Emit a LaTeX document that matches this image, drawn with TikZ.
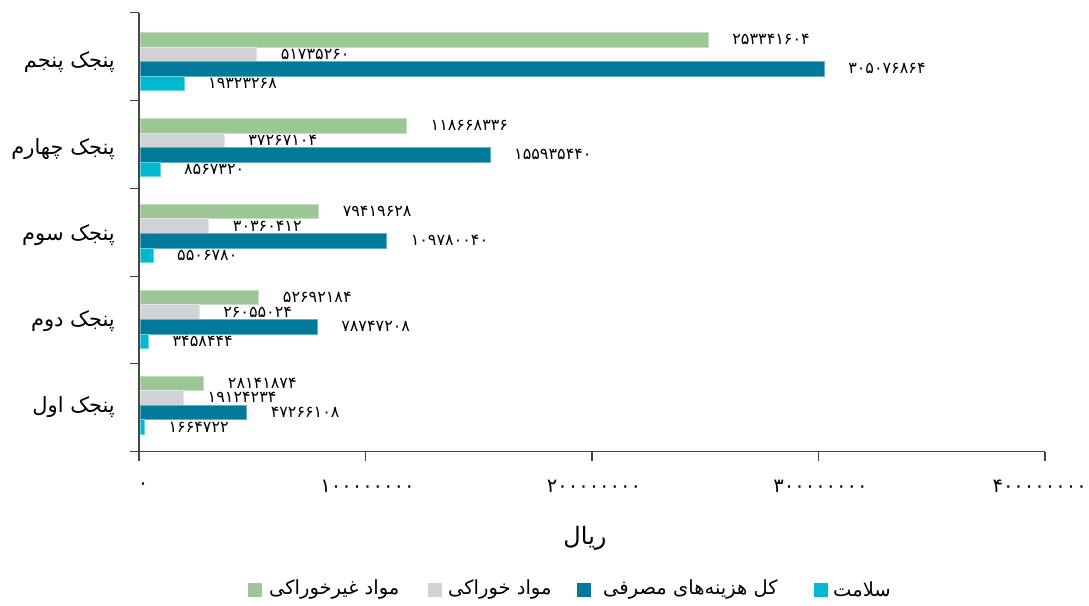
\documentclass[tikz,border=0pt]{standalone}
\usepackage{fontspec}
\newfontfamily\fa[Script=Arabic]{DejaVu Sans}
\TeXXeTstate=1
\definecolor{cgreen}{RGB}{157,198,151}
\definecolor{cgray}{RGB}{209,210,212}
\definecolor{cblue}{RGB}{0,121,154}
\definecolor{ccyan}{RGB}{0,184,208}
\definecolor{caxis}{RGB}{70,70,70}
\tikzset{
  axisline/.style={draw=caxis, line width=1.1pt},
  vlab/.style={font=\fa\fontsize{16}{18}\selectfont, inner sep=0pt, anchor=west, text=black},
  catlab/.style={font=\fa\fontsize{21}{24}\selectfont, inner sep=0pt, anchor=east, text=black},
  ticklab/.style={font=\fa\fontsize{19.5}{21}\selectfont, inner sep=0pt, text=black},
  leglab/.style={font=\fa\fontsize{19.5}{22}\selectfont, inner sep=0pt, anchor=west, text=black},
  legsq/.style={minimum width=14pt, minimum height=14pt, inner sep=0pt},
}
\newcommand\onebar[5]{%
  \fill[#3, draw=#3!60!white, line width=0.6pt] (140.7,#1) rectangle ({140.7+22.4*#2},{#1+14.6});
  \node[vlab] (#5) at ({140.7+22.4*#2+24},{#1+7.3}) {#4};
}
\begin{document}
\begin{tikzpicture}[x=1pt,y=-1pt]
\useasboundingbox (0,0) rectangle (1089,605);
\fill[white] (0,0) rectangle (1089,605);

% bars: quintile 5 (top) to 1 (bottom)
\foreach \i/\gv/\gl/\sv/\sl/\bv/\bl/\cv/\cl/\nm in {
 0/25.3341604/۲۵۳۳۴۱۶۰۴/5.173526/۵۱۷۳۵۲۶۰/30.5076864/۳۰۵۰۷۶۸۶۴/1.9323268/۱۹۳۲۳۲۶۸/q5,
 1/11.8668336/۱۱۸۶۶۸۳۳۶/3.7267104/۳۷۲۶۷۱۰۴/15.593544/۱۵۵۹۳۵۴۴۰/0.856732/۸۵۶۷۳۲۰/q4,
 2/7.9419628/۷۹۴۱۹۶۲۸/3.0360412/۳۰۳۶۰۴۱۲/10.978004/۱۰۹۷۸۰۰۴۰/0.550678/۵۵۰۶۷۸۰/q3,
 3/5.2692184/۵۲۶۹۲۱۸۴/2.6055024/۲۶۰۵۵۰۲۴/7.8747208/۷۸۷۴۷۲۰۸/0.3458444/۳۴۵۸۴۴۴/q2,
 4/2.8141874/۲۸۱۴۱۸۷۴/1.9124234/۱۹۱۲۴۲۳۴/4.7266108/۴۷۲۶۶۱۰۸/0.1664722/۱۶۶۴۷۲۲/q1}
{
  \pgfmathsetmacro\yt{32.3+85.9*\i}
  \pgfmathsetmacro\ya{\yt+14.6}
  \pgfmathsetmacro\yb{\yt+29.2}
  \pgfmathsetmacro\yc{\yt+43.8}
  \onebar{\yt}{\gv}{cgreen}{\gl}{\nm g}
  \onebar{\ya}{\sv}{cgray}{\sl}{\nm s}
  \onebar{\yb}{\bv}{cblue}{\bl}{\nm b}
  \onebar{\yc}{\cv}{ccyan}{\cl}{\nm c}
}

% category labels
\node[catlab] (c5) at (115,62) {\beginR پنجک پنجم\endR};
\node[catlab] (c4) at (115,149) {\beginR پنجک چهارم\endR};
\node[catlab] (c3) at (115,235) {\beginR پنجک سوم\endR};
\node[catlab] (c2) at (115,321) {\beginR پنجک دوم\endR};
\node[catlab] (c1) at (115,407) {\beginR پنجک اول\endR};

% axes
\draw[axisline] (139,12.7) -- (139,460.7);
\draw[axisline] (130,451.7) -- (1045,451.7);
\foreach \yy in {12.7,100.5,188.3,276.1,363.9}
  \draw[axisline] (130,\yy) -- (139,\yy);
\foreach \xx in {365.5,592,818.5,1045}
  \draw[axisline] (\xx,451.7) -- (\xx,460.7);

% tick labels
\node[ticklab] (t0) at (143,486) {۰};
\node[ticklab] (t1) at (367.5,486) {۱۰۰۰۰۰۰۰۰};
\node[ticklab] (t2) at (594,486) {۲۰۰۰۰۰۰۰۰};
\node[ticklab] (t3) at (820.5,486) {۳۰۰۰۰۰۰۰۰};
\node[ticklab, anchor=east] (t4) at (1087,486) {۴۰۰۰۰۰۰۰۰};

% axis title
\node[font=\fa\fontsize{24}{26}\selectfont, inner sep=0pt] (unit) at (585,538) {\beginR ریال\endR};

% legend
\node[legsq, fill=cgreen] (lg1) at (255,590) {};
\node[leglab] (lt1) at (269,589) {\beginR مواد غیرخوراکی\endR};
\node[legsq, fill=cgray] (lg2) at (435,590) {};
\node[leglab] (lt2) at (448,589) {\beginR مواد خوراکی\endR};
\node[legsq, fill=cblue] (lg3) at (583.5,590) {};
\node[leglab] (lt3) at (603,589) {\beginR کل هزینه‌های مصرفی\endR};
\node[legsq, fill=ccyan] (lg4) at (820.5,590) {};
\node[leglab] (lt4) at (833,589) {\beginR سلامت\endR};
\end{tikzpicture}
\end{document}
